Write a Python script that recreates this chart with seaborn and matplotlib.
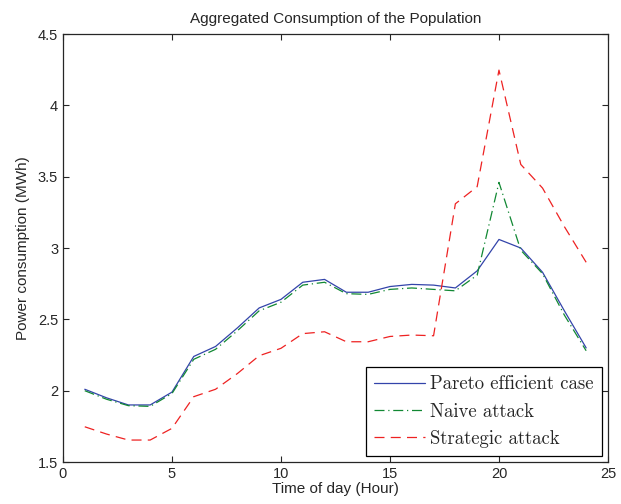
import numpy as np
import pandas as pd
import matplotlib
matplotlib.use('Agg')
import matplotlib.pyplot as plt
import seaborn as sns

hours = list(range(1, 25))
pareto = [2.01, 1.95, 1.90, 1.90, 1.99, 2.24, 2.31, 2.44, 2.58, 2.64, 2.76, 2.78,
          2.69, 2.69, 2.73, 2.745, 2.74, 2.72, 2.84, 3.06, 3.00, 2.83, 2.56, 2.30]
naive = [2.00, 1.94, 1.895, 1.89, 1.98, 2.22, 2.29, 2.42, 2.56, 2.62, 2.74, 2.76,
         2.68, 2.675, 2.71, 2.72, 2.71, 2.70, 2.81, 3.46, 2.985, 2.82, 2.53, 2.28]
strategic = [1.747, 1.696, 1.654, 1.654, 1.736, 1.958, 2.01, 2.12, 2.245, 2.297, 2.40, 2.413,
             2.343, 2.343, 2.38, 2.39, 2.385, 3.31, 3.43, 4.247, 3.586, 3.42, 3.15, 2.90]
labels = ['Pareto efficient case', 'Naive attack', 'Strategic attack']

df = pd.DataFrame({'hour': hours, labels[0]: pareto, labels[1]: naive, labels[2]: strategic})
long = df.melt(id_vars='hour', var_name='series', value_name='power')

sns.set_style('ticks')
plt.rcParams['font.family'] = ['Liberation Sans', 'DejaVu Sans']

fig = plt.figure(figsize=(6.21, 5.04), dpi=100)
ax = fig.add_axes([0.1014, 0.0833, 0.8776, 0.8492])

styles = {labels[0]: ('#3344aa', '-'),
          labels[1]: ('#118833', (0, (8, 3, 1, 3))),
          labels[2]: ('#ee2222', (0, (8, 5)))}
for name in labels:
    c, ls = styles[name]
    sns.lineplot(data=long[long['series'] == name], x='hour', y='power', ax=ax,
                 color=c, linestyle=ls, linewidth=0.9, label=name)

ax.set_xlim(0, 25)
ax.set_ylim(1.5, 4.5)
ax.set_xticks([0, 5, 10, 15, 20, 25])
ax.set_yticks([1.5, 2, 2.5, 3, 3.5, 4, 4.5])
ax.set_yticklabels(['1.5', '2', '2.5', '3', '3.5', '4', '4.5'])
ax.tick_params(direction='in', top=True, right=True, labelsize=10.5, length=4, width=0.8)
for sp in ax.spines.values():
    sp.set_linewidth(0.9)
    sp.set_visible(True)
ax.set_xlabel('Time of day (Hour)', fontsize=11, labelpad=1)
ax.set_ylabel('Power consumption (MWh)', fontsize=11, labelpad=6)
ax.set_title('Aggregated Consumption of the Population', fontsize=11, pad=8)

leg = ax.legend(loc='lower right', prop={'family': 'cmr10', 'size': 13.5}, frameon=True,
                fancybox=False, edgecolor='black', framealpha=1, handlelength=2.7,
                handletextpad=0.3, borderpad=0.45, labelspacing=0.5, borderaxespad=0.3)
leg.get_frame().set_linewidth(0.9)

fig.savefig('out.png', dpi=100)
